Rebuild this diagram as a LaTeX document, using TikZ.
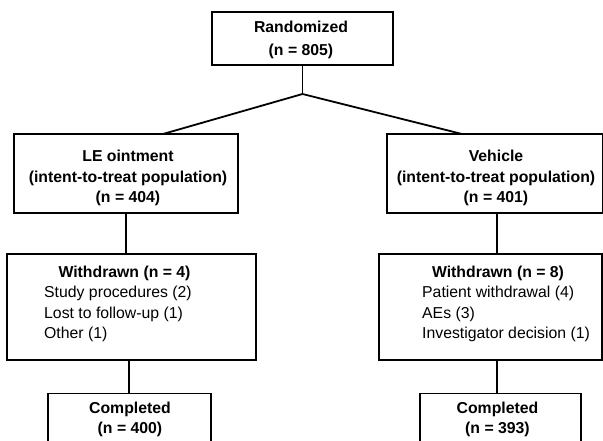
\documentclass[tikz,border=0pt]{standalone}
\usepackage{fontspec}
\setmainfont{Liberation Sans}
\begin{document}
\begin{tikzpicture}[x=1pt,y=-1pt,
  box/.style={draw,line width=1.8pt,rectangle,inner sep=0pt},
  txt/.style={inner sep=0pt,anchor=base,align=center,font=\fontsize{15.8}{20.5}\selectfont},
  lst/.style={inner sep=0pt,anchor=base west,align=left,font=\fontsize{15.8}{20.3}\selectfont},
  conn/.style={line width=1.8pt}]
\path[use as bounding box] (0,0) rectangle (603,441);
\clip (0,0) rectangle (603,441);
% boxes
\node[box,minimum width=181pt,minimum height=53pt] (rand) at (302.5,38.5) {};
\node[box,minimum width=224pt,minimum height=79pt] (le) at (126,173.5) {};
\node[box,minimum width=216pt,minimum height=79pt] (veh) at (495,173.5) {};
\node[box,minimum width=249pt,minimum height=106pt] (lew) at (131.5,307) {};
\node[box,minimum width=223pt,minimum height=106pt] (vehw) at (490.5,307) {};
\node[box,minimum width=163pt,minimum height=67pt] (lec) at (129.5,427) {};
\node[box,minimum width=161pt,minimum height=67pt] (vehc) at (500.5,427) {};
% texts (anchor = baseline of the last line)
\node[txt,font=\fontsize{15.8}{23}\selectfont] (randt) at (301,55.5) {\textbf{Randomized}\\\textbf{(n = 805)}};
\node[txt] (let) at (128,202.5) {\textbf{LE ointment}\\\textbf{(intent-to-treat population)}\\\textbf{(n = 404)}};
\node[txt] (veht) at (496,202.5) {\textbf{Vehicle}\\\textbf{(intent-to-treat population)}\\\textbf{(n = 401)}};
\node[txt] (lewh) at (124.5,277.5) {\textbf{Withdrawn (n = 4)}};
\node[lst] (lewl) at (44,338.5) {Study procedures (2)\\Lost to follow-up (1)\\Other (1)};
\node[txt] (vehwh) at (498,277.5) {\textbf{Withdrawn (n = 8)}};
\node[lst] (vehwl) at (422,338.5) {Patient withdrawal (4)\\AEs (3)\\Investigator decision (1)};
\node[txt] (lect) at (130,433.5) {\textbf{Completed}\\\textbf{(n = 400)}};
\node[txt] (vehct) at (497.5,433.5) {\textbf{Completed}\\\textbf{(n = 393)}};
% connectors
\coordinate (j) at (302.5,94);
\coordinate (leT) at (163,134);
\coordinate (vehT) at (462,134);
\coordinate (lx) at (126,0);
\coordinate (lx2) at (129,0);
\coordinate (vx) at (497,0);
\draw[conn] (rand.south) -- (j);
\draw[conn] (j) -- (leT);
\draw[conn] (j) -- (vehT);
\draw[conn] (le.south -| lx) -- (lew.north -| lx);
\draw[conn] (lew.south -| lx2) -- (lec.north -| lx2);
\draw[conn] (veh.south -| vx) -- (vehw.north -| vx);
\draw[conn] (vehw.south -| vx) -- (vehc.north -| vx);
\end{tikzpicture}
\end{document}
